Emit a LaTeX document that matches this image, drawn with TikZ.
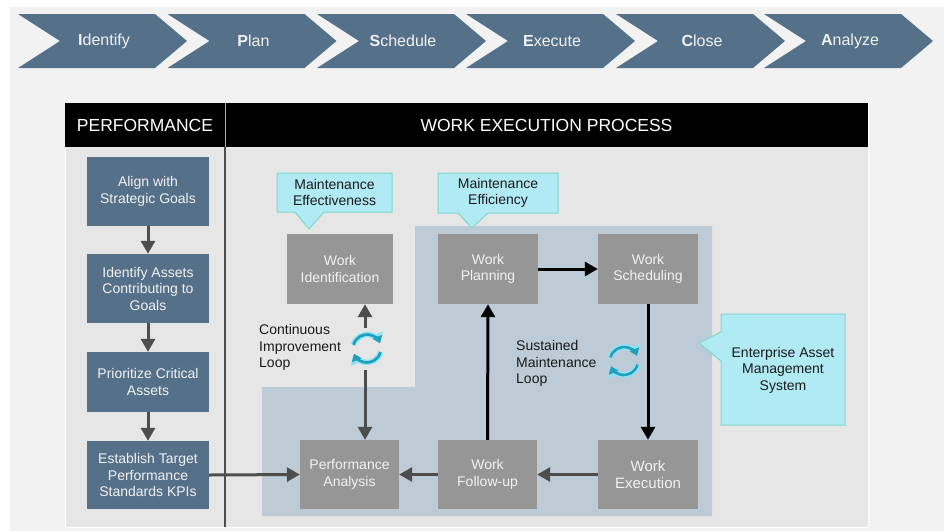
\documentclass[tikz,border=0pt]{standalone}
\usepackage{fontspec}
\setmainfont{Liberation Sans}
\usetikzlibrary{arrows.meta}
\definecolor{bgA}{HTML}{F2F2F2}
\definecolor{panelfill}{HTML}{E6E6E6}
\definecolor{steel}{HTML}{557089}
\definecolor{workgray}{HTML}{969696}
\definecolor{regionblue}{HTML}{BCCBD5}
\definecolor{callfill}{HTML}{B0EAF4}
\definecolor{callline}{HTML}{80D8CC}
\definecolor{arrgray}{HTML}{4D4D4D}
\definecolor{cycdark}{HTML}{1F9EBD}
\definecolor{cycglow}{HTML}{8EE4F5}
\definecolor{lighttext}{HTML}{F2F2F2}
\definecolor{darktext}{HTML}{1A1A1A}
\newcommand{\cycleicon}[1]{%
  \begin{scope}[shift={#1},x=1pt,y=1pt]
    \draw[cycglow,line width=5.5pt,-{Triangle[length=10pt,width=14pt]}] (165:14) arc[start angle=165,end angle=22,radius=14];
    \draw[cycglow,line width=5.5pt,-{Triangle[length=10pt,width=14pt]}] (-15:14) arc[start angle=-15,end angle=-158,radius=14];
    \draw[cycdark,line width=2.6pt,-{Triangle[length=7pt,width=10pt]}] (165:14) arc[start angle=165,end angle=22,radius=14];
    \draw[cycdark,line width=2.6pt,-{Triangle[length=7pt,width=10pt]}] (-15:14) arc[start angle=-15,end angle=-158,radius=14];
  \end{scope}}
\begin{document}
\begin{tikzpicture}[x=1pt,y=-1pt,
  chevfill/.style={fill=steel},
  chevtext/.style={text=lighttext,font=\fontsize{16}{18}\selectfont,inner sep=0pt},
  headtext/.style={text=white,font=\fontsize{17.5}{20}\selectfont,inner sep=0pt},
  perfbox/.style={fill=steel,text=lighttext,align=center,inner sep=0pt,
    minimum width=122pt,font=\fontsize{14}{16.5}\selectfont},
  workbox/.style={fill=workgray,text=lighttext,align=center,inner sep=0pt,
    minimum height=70pt,font=\fontsize{14}{16.5}\selectfont},
  callshape/.style={fill=callfill,draw=callline,line width=1pt,line join=miter},
  calltext/.style={text=darktext,align=center,inner sep=0pt,font=\fontsize{14}{16.5}\selectfont},
  looptext/.style={text=darktext,align=left,inner sep=0pt,anchor=west,font=\fontsize{14}{16.5}\selectfont},
  garrow/.style={draw=arrgray,line width=3pt,-{Triangle[length=13pt,width=14pt]}},
  barrow/.style={draw=black,line width=3pt,-{Triangle[length=13pt,width=14pt]}}]
\useasboundingbox (0,0) rectangle (944,531);
\fill[white] (0,0) rectangle (944,531);
\fill[bgA] (10,7) rectangle (944,531);
% chevrons
\foreach \x/\a/\b in {18/I/dentify,167.5/P/lan,317/S/chedule,466/E/xecute,616/C/lose,764/A/nalyze}{
  \fill[chevfill] (\x,14) -- ++(137,0) -- ++(32,27) -- ++(-32,27) -- ++(-137,0) -- ++(42,-27) -- cycle;
  \node[chevtext] (chev\a) at (\x+86,41) {\textbf{\a}\b};
}
% panel
\draw[fill=panelfill,draw=white,line width=1pt] (65,103) rectangle (868,527);
\fill[black] (65,103) rectangle (868,147);
\draw[gray!70,line width=1pt] (225,103) -- (225,147);
\draw[arrgray,line width=1.6pt] (225,147) -- (225,527);
\node[headtext] (hperf) at (145,125) {PERFORMANCE};
\node[headtext] (hwork) at (546.5,125) {WORK EXECUTION PROCESS};
% blue region
\fill[regionblue] (415,226) -- (712,226) -- (712,516) -- (262,516) -- (262,387) -- (415,387) -- cycle;
% performance boxes
\node[perfbox,minimum height=69pt] (p1) at (148,191.5) {Align with\\Strategic Goals};
\node[perfbox,minimum height=69pt] (p2) at (148,288.5) {Identify Assets\\Contributing to\\Goals};
\node[perfbox,minimum height=60pt] (p3) at (148,382) {Prioritize Critical\\Assets};
\node[perfbox,minimum height=68pt] (p4) at (148,475) {Establish Target\\Performance\\Standards KPIs};
\draw[garrow] (p1) -- (p2);
\draw[garrow] (p2) -- (p3);
\draw[garrow] (p3) -- (p4);
% work boxes
\node[workbox,minimum width=106pt] (wi) at (340,269) {Work\\Identification};
\node[workbox,minimum width=100pt] (wp) at (488,269) {Work\\Planning};
\node[workbox,minimum width=100pt] (ws) at (648,269) {Work\\Scheduling};
\node[workbox,minimum width=100pt,minimum height=69pt,font=\fontsize{15}{17.5}\selectfont] (we) at (648,474.5) {Work\\Execution};
\node[workbox,minimum width=99pt,minimum height=69pt] (wf) at (487.5,474.5) {Work\\Follow-up};
\node[workbox,minimum width=99pt,minimum height=69pt] (pa) at (349.5,474.5) {Performance\\Analysis};
% callouts
\draw[callshape] (277,173) -- (392,173) -- (392,212) -- (324,212) -- (309,229) -- (295,212) -- (277,212) -- cycle;
\node[calltext] (ceff) at (334.5,192.5) {Maintenance\\Effectiveness};
\draw[callshape] (438,173) -- (558,173) -- (558,213) -- (488,213) -- (472,228) -- (458,213) -- (438,213) -- cycle;
\node[calltext] (cefi) at (498,193) {Maintenance\\Efficiency};
\draw[callshape] (721,314) -- (845,314) -- (845,425) -- (721,425) -- (721,361) -- (699,343) -- (721,332) -- cycle;
\node[calltext] (ceam) at (783,370) {Enterprise Asset\\Management\\System};
% arrows
\coordinate (ciup) at (365,328);
\coordinate (cidn) at (365,370);
\draw[garrow] (ciup) -- (ciup |- wi.south);
\draw[garrow] (cidn) -- (cidn |- pa.north);
\draw[garrow] (p4.east) -- (pa.west);
\draw[barrow] (wp.east) -- (ws.west);
\draw[barrow] (ws.south) -- (we.north);
\draw[garrow] (we.west) -- (wf.east);
\draw[barrow] (wf.north) -- (wp.south);
\draw[garrow] (wf.west) -- (pa.east);
% loop icons and labels
\cycleicon{(367,348.5)}
\cycleicon{(624,361)}
\node[looptext] (lci) at (259,347.5) {Continuous\\Improvement\\Loop};
\node[looptext] (lsm) at (516,363.5) {Sustained\\Maintenance\\Loop};
\end{tikzpicture}
\end{document}
